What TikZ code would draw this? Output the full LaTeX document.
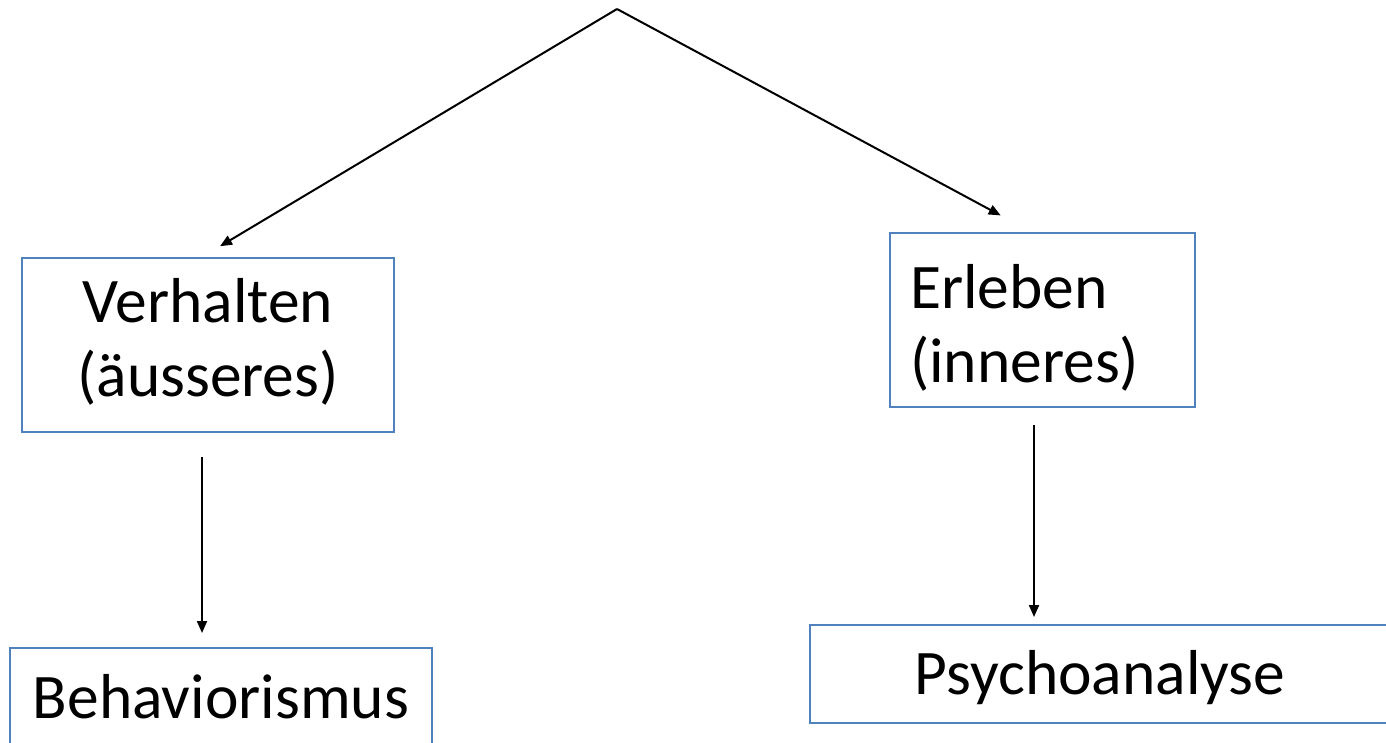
\documentclass[tikz,border=0pt]{standalone}
\usepackage{fontspec}
\setmainfont{Carlito}
\usetikzlibrary{arrows.meta}
\definecolor{boxblue}{RGB}{79,129,189}
\newcommand\linestrut{\rule[-0.25em]{0pt}{1.16em}}
\newcommand\tallstrut{\rule[-0.25em]{0pt}{1.3em}}

\begin{document}
\begin{tikzpicture}[x=1pt,y=-1pt,>={Triangle[length=12pt,width=10pt]}]
\useasboundingbox (0,0) rectangle (1386,742);
\coordinate (top) at (617,9);
  \begin{scope}[every node/.style={draw=boxblue,line width=2pt,
      font=\fontsize{63.5}{74}\selectfont,
      execute at begin node=\linestrut,execute at end node=\linestrut}]
    \node [minimum width=372pt,minimum height=174pt,align=center,
      execute at begin node=\tallstrut] at (208,345) (verh) {Verhalten\\(äusseres)};
    \node [text width=265pt,inner xsep=20pt,minimum height=174pt,align=left,
      execute at begin node=\tallstrut] at (1042.5,320) (erl) {Erleben\\(inneres)};
    \node [minimum width=422pt,minimum height=100pt] at (221,698) (behav) {Behaviorismus};
    \node [minimum width=580pt,minimum height=98pt] at (1100,674) (psych) {Psychoanalyse};
  \end{scope}

  \begin{scope}[every path/.style={draw,->,line width=2pt}]
    \path [shorten >=21pt] (top) -- ([xshift=-6pt]verh.north);
    \path [shorten >=35pt] (top) -- ([xshift=-11pt]erl.north);
    \path [shorten <=24pt,shorten >=14pt] ([xshift=-6pt]verh.south) -- ([xshift=-19pt]behav.north);
    \path [shorten <=17pt,shorten >=7pt] ([xshift=-8.5pt]erl.south) -- ([xshift=-66pt]psych.north);
  \end{scope}
\end{tikzpicture}
\end{document}
